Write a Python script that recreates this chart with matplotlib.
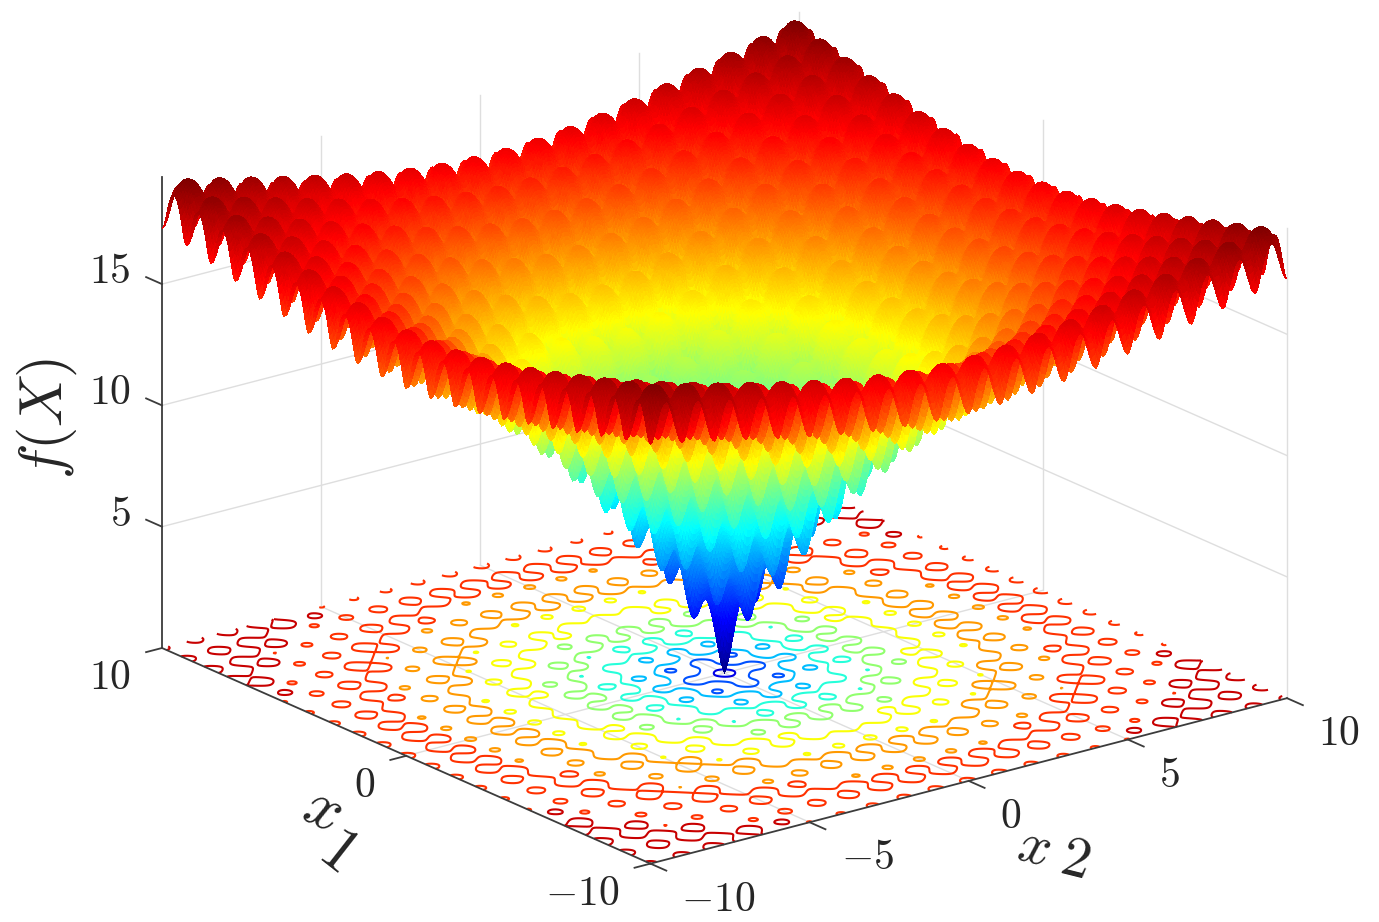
"""Ackley surface with floor contours, drawn MATLAB surfc style."""

import matplotlib

matplotlib.use("Agg")
import matplotlib.pyplot as plt
import numpy as np
from matplotlib.colors import LinearSegmentedColormap
from mpl_toolkits.mplot3d import proj3d

WIDTH, HEIGHT = 1379, 922

X1_TICKS = [-10, 0, 10]
X2_TICKS = [-10, -5, 0, 5, 10]
Z_TICKS = [5, 10, 15]
CONTOUR_LEVELS = [2, 4, 6, 8, 10, 12, 14, 16, 18]
Z_LIMITS = (0, 19.4)

GRID_COLOR = "#dedede"
AXIS_COLOR = "#3c3c3c"
TEXT_COLOR = "#262626"

# MATLAB's jet sits slightly lower than matplotlib's
MATLAB_JET = LinearSegmentedColormap.from_list(
    "matlab_jet",
    [
        (0.0, (0, 0, 0.5)),
        (0.125, (0, 0, 1)),
        (0.375, (0, 1, 1)),
        (0.625, (1, 1, 0)),
        (0.875, (1, 0, 0)),
        (1.0, (0.5, 0, 0)),
    ],
)

plt.rcParams["mathtext.fontset"] = "cm"


def ackley(x1, x2):
    radial = -20 * np.exp(-0.2 * np.sqrt(0.5 * (x1**2 + x2**2)))
    ripple = -np.exp(0.5 * (np.cos(2 * np.pi * x1) + np.cos(2 * np.pi * x2)))
    return radial + ripple + 20 + np.e


def fit_axes(fig, ax, corner_a, pixel_a, corner_b, pixel_b):
    """Move the square axes so two box corners land on the reference pixels."""
    ax.apply_aspect()
    box = ax.get_position().transformed(fig.transFigure)
    size, x0, y0 = box.width, box.x0, box.y0
    proj = ax.get_proj()
    u_a, v_a, _ = proj3d.proj_transform(*corner_a, proj)
    u_b, v_b, _ = proj3d.proj_transform(*corner_b, proj)
    px_a, px_b = ax.transData.transform([(u_a, v_a), (u_b, v_b)])

    new_size = size * (pixel_b[0] - pixel_a[0]) / (px_b[0] - px_a[0])
    new_x0 = pixel_a[0] - new_size * (px_a[0] - x0) / size
    new_y0 = (HEIGHT - pixel_a[1]) - new_size * (px_a[1] - y0) / size
    ax.set_position(
        [new_x0 / WIDTH, new_y0 / HEIGHT, new_size / WIDTH, new_size / HEIGHT]
    )


def draw_grid(ax):
    """Draw the light walls and floor grid."""
    style = {"color": GRID_COLOR, "linewidth": 1.0, "zorder": 1}
    z0, z1 = Z_LIMITS
    for x2 in X2_TICKS[1:]:
        ax.plot([x2, x2], [10, 10], [z0, z1], **style)
    for x2 in X2_TICKS[1:-1]:
        ax.plot([x2, x2], [-10, 10], [z0, z0], **style)
    for x1 in X1_TICKS[:-1]:
        ax.plot([10, 10], [x1, x1], [z0, z1], **style)
    for x1 in X1_TICKS[1:-1]:
        ax.plot([-10, 10], [x1, x1], [z0, z0], **style)
    for z in Z_TICKS:
        ax.plot([-10, 10], [10, 10], [z, z], **style)
        ax.plot([10, 10], [-10, 10], [z, z], **style)


def label_tick(ax, x, y, z, text, offset, ha):
    """Put a tick label at a pixel offset from a projected 3D point."""
    u, v, _ = proj3d.proj_transform(x, y, z, ax.get_proj())
    ax.annotate(
        f"${text}$",
        xy=(u, v),
        xytext=offset,
        textcoords="offset pixels",
        ha=ha,
        va="center",
        fontsize=30,
        color=TEXT_COLOR,
        annotation_clip=False,
    )


def draw_axes(ax):
    """Draw the black axis lines, ticks and tick labels."""
    style = {"color": AXIS_COLOR, "linewidth": 1.3, "zorder": 3}
    z0, z1 = Z_LIMITS
    ax.plot([-10, -10], [-10, 10], [z0, z0], **style)
    ax.plot([-10, 10], [-10, -10], [z0, z0], **style)
    ax.plot([-10, -10], [10, 10], [z0, z1], **style)

    for x1 in X1_TICKS:
        ax.plot([-10, -10.5], [x1, x1], [z0, z0], **style)
        label_tick(ax, -10, x1, z0, f"{x1}", (-31, -29), "right")
    for x2 in X2_TICKS:
        ax.plot([x2, x2], [-10, -10.65], [z0, z0], **style)
        label_tick(ax, x2, -10, z0, f"{x2}", (31, -35), "left")
    for z in Z_TICKS:
        ax.plot([-10, -10], [10, 10.65], [z, z], **style)
        label_tick(ax, -10, 10, z, f"{z}", (-31, 13), "right")


def draw_axis_labels(fig):
    """Place the large rotated axis labels at their reference pixels."""
    labels = [
        (r"$f(X)$", 47, 418, 90, 43),
        (r"$x$", 323, 808, -25, 46),
        (r"$\mathit{1}$", 338, 850, -38, 46),
        (r"$x$", 1034, 847, -14, 41),
        (r"$\mathit{2}$", 1075, 860, -14, 41),
    ]
    for text, x, y, rotation, size in labels:
        fig.text(
            x / WIDTH,
            1 - y / HEIGHT,
            text,
            rotation=rotation,
            fontsize=size,
            ha="center",
            va="center",
            color=TEXT_COLOR,
        )


def main():
    """Build the figure and save it to out.png."""
    fig = plt.figure(figsize=(WIDTH / 100, HEIGHT / 100), dpi=100)
    ax = fig.add_subplot(projection="3d", computed_zorder=False)
    ax.set_proj_type("ortho")
    ax.set_axis_off()
    ax.view_init(elev=19.8, azim=-127.5)
    ax.set_box_aspect((802, 802, 500), zoom=0.8)

    grid = np.linspace(-10, 10, 401)
    x2_grid, x1_grid = np.meshgrid(grid, grid)
    values = ackley(x1_grid, x2_grid)

    draw_grid(ax)
    ax.contour(
        x2_grid,
        x1_grid,
        values,
        levels=CONTOUR_LEVELS,
        zdir="z",
        offset=Z_LIMITS[0],
        cmap=MATLAB_JET,
        vmin=values.min(),
        vmax=values.max(),
        linewidths=1.5,
        zorder=2,
    )
    ax.plot_surface(
        x2_grid,
        x1_grid,
        values,
        rstride=1,
        cstride=1,
        cmap=MATLAB_JET,
        vmin=values.min(),
        vmax=values.max(),
        linewidth=0,
        antialiased=False,
        shade=False,
        zorder=4,
    )

    ax.set_xlim(-10, 10, view_margin=0)
    ax.set_ylim(-10, 10, view_margin=0)
    ax.set_zlim(*Z_LIMITS, view_margin=0)

    fit_axes(fig, ax, (-10, 10, 0), (162, 648), (10, -10, 0), (1287, 695))
    draw_axes(ax)
    draw_axis_labels(fig)

    fig.savefig("out.png", dpi=100)
    plt.close(fig)


if __name__ == "__main__":
    main()
